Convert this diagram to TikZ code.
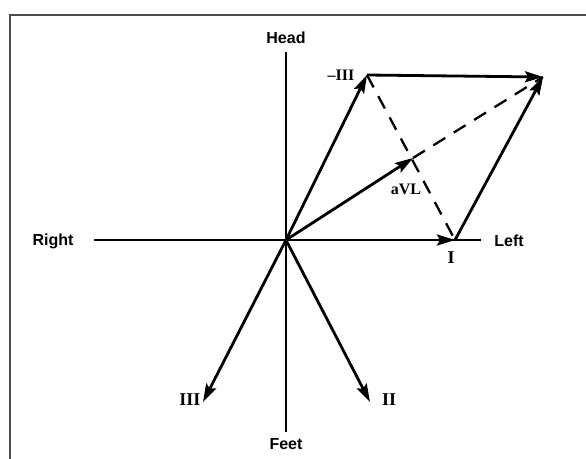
\documentclass[tikz,border=0pt]{standalone}
\usepackage{fontspec}
\setmainfont{Liberation Serif}
\setsansfont{Liberation Sans}
\usetikzlibrary{arrows.meta}
\begin{document}
\begin{tikzpicture}[x=1pt,y=-1pt,
  axis/.style={line width=2.2pt},
  vec/.style={line width=2.8pt,-{Stealth[length=18pt,width=11pt,inset=3pt]}},
  dsh/.style={line width=2.3pt,dash pattern=on 14pt off 10pt},
  dirlbl/.style={font=\sffamily\bfseries\fontsize{16}{16}\selectfont},
  numlbl/.style={font=\bfseries\fontsize{18}{18}\selectfont},
  smlbl/.style={font=\bfseries\fontsize{16}{16}\selectfont},
  frame/.style={line width=1.4pt,draw=black!70}]
\useasboundingbox (0,0) rectangle (586,458);
\draw[frame] (10,470) -- (10,15) -- (600,15);
% coordinates
\coordinate (O) at (286,240);
\coordinate (Htop) at (286,52);
\coordinate (Fbot) at (286,432);
\coordinate (Rend) at (94,240);
\coordinate (Lend) at (481,240);
\coordinate (A) at (367,75);
\coordinate (B) at (543,77);
\coordinate (C) at (455,240);
\coordinate (M) at (413,158);
\coordinate (P3) at (203,402);
\coordinate (P2) at (370,402);
% axes
\draw[axis] (Htop) -- (Fbot);
\draw[axis] (Rend) -- (Lend);
% dashed
\draw[dsh] (A) -- (C);
\draw[dsh] (M) -- (B);
% vectors
\draw[vec] (O) -- (C);
\draw[vec] (O) -- (A);
\draw[vec] (A) -- (B);
\draw[vec] (C) -- (B);
\draw[vec] (O) -- (M);
\draw[vec] (O) -- (P3);
\draw[vec] (O) -- (P2);
% labels
\node[dirlbl] (head) at (286,38) {Head};
\node[dirlbl] (feet) at (286,444) {Feet};
\node[dirlbl] (right) at (53,241) {Right};
\node[dirlbl] (left) at (509,241) {Left};
\node[numlbl] (lI) at (451,258) {I};
\node[smlbl] (lmIII) at (341,75) {--III};
\node[smlbl] (laVL) at (406,189) {aVL};
\node[numlbl] (lIII) at (190,400) {III};
\node[numlbl] (lII) at (389,400) {II};
\end{tikzpicture}
\end{document}
